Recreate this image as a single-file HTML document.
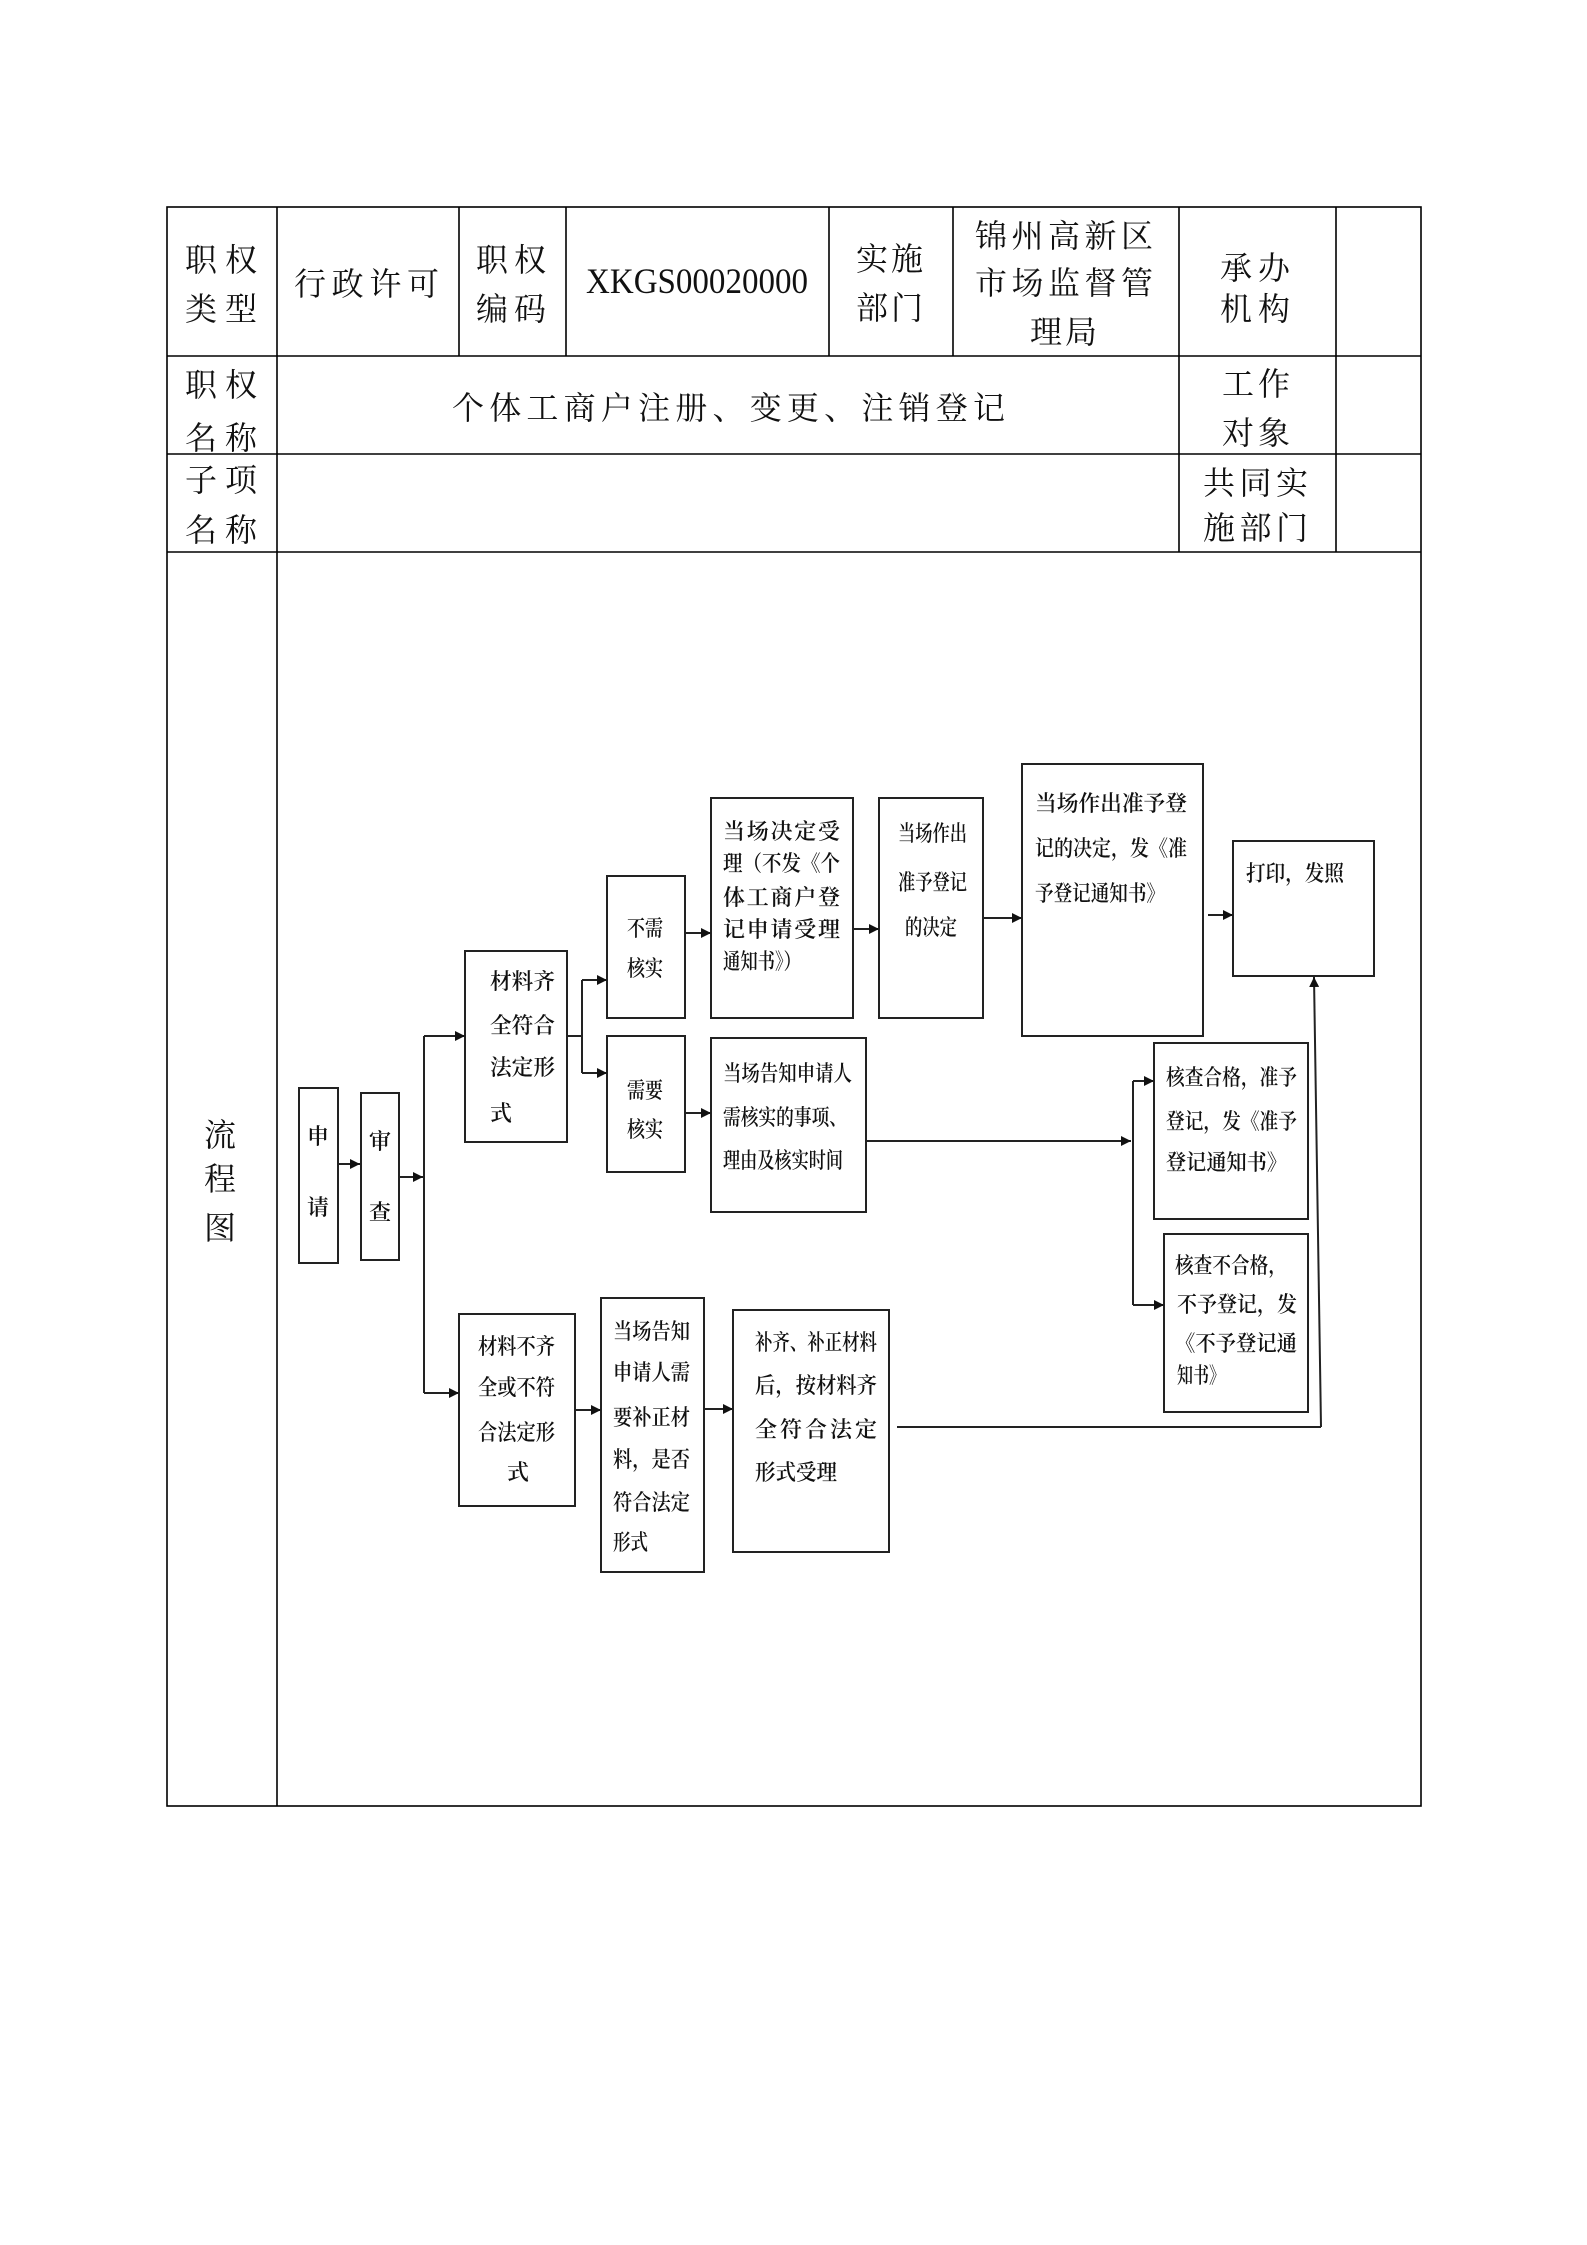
<!DOCTYPE html>
<html>
<head>
<meta charset="utf-8">
<style>
  html, body { margin: 0; padding: 0; background: #fff; }
  body { width: 1587px; height: 2245px; overflow: hidden; }
  svg { display: block; }
  .t { font-family: "Liberation Serif", "Noto Serif CJK SC", serif; font-size: 32px; fill: #111; }
  .f { font-family: "Liberation Serif", "Noto Serif CJK SC", serif; font-size: 22px; fill: #111; font-weight: 600; }
  .m { font-family: "Liberation Serif", serif; font-size: 36px; fill: #111; }
</style>
</head>
<body>
<svg width="1587" height="2245" viewBox="0 0 1587 2245" xmlns="http://www.w3.org/2000/svg">
  <defs>
    <marker id="ah" viewBox="0 0 10 10" refX="10" refY="5" markerWidth="10" markerHeight="10" markerUnits="userSpaceOnUse" orient="auto">
      <path d="M0,0 L10,5 L0,10 z" fill="#111"/>
    </marker>
  </defs>
  <rect x="0" y="0" width="1587" height="2245" fill="#fff"/>

  <!-- TABLE GRID -->
  <g stroke="#000" stroke-width="1.6" fill="none">
    <rect x="167" y="207" width="1254" height="1599"/>
    <line x1="167" y1="356" x2="1421" y2="356"/>
    <line x1="167" y1="454" x2="1421" y2="454"/>
    <line x1="167" y1="552" x2="1421" y2="552"/>
    <line x1="277" y1="207" x2="277" y2="1806"/>
    <line x1="459" y1="207" x2="459" y2="356"/>
    <line x1="566" y1="207" x2="566" y2="356"/>
    <line x1="829" y1="207" x2="829" y2="356"/>
    <line x1="953" y1="207" x2="953" y2="356"/>
    <line x1="1179" y1="207" x2="1179" y2="552"/>
    <line x1="1336" y1="207" x2="1336" y2="552"/>
  </g>

  <!-- TABLE TEXT -->
  <text class="t" x="185" y="271" textLength="72" lengthAdjust="spacing">职权</text>
  <text class="t" x="185" y="320" textLength="72" lengthAdjust="spacing">类型</text>
  <text class="t" x="294" y="295" textLength="145" lengthAdjust="spacing">行政许可</text>
  <text class="t" x="476" y="271" textLength="70" lengthAdjust="spacing">职权</text>
  <text class="t" x="476" y="320" textLength="70" lengthAdjust="spacing">编码</text>
  <text class="m" x="586" y="293" textLength="222" lengthAdjust="spacingAndGlyphs">XKGS00020000</text>
  <text class="t" x="856" y="270" textLength="67" lengthAdjust="spacing">实施</text>
  <text class="t" x="856" y="319" textLength="67" lengthAdjust="spacing">部门</text>
  <text class="t" x="975" y="247" textLength="178" lengthAdjust="spacing">锦州高新区</text>
  <text class="t" x="975" y="294" textLength="178" lengthAdjust="spacing">市场监督管</text>
  <text class="t" x="1030" y="343" textLength="67" lengthAdjust="spacing">理局</text>
  <text class="t" x="1220" y="279" textLength="70" lengthAdjust="spacing">承办</text>
  <text class="t" x="1220" y="320" textLength="70" lengthAdjust="spacing">机构</text>

  <text class="t" x="185" y="396" textLength="72" lengthAdjust="spacing">职权</text>
  <text class="t" x="185" y="449" textLength="72" lengthAdjust="spacing">名称</text>
  <text class="t" x="452" y="419" textLength="553" lengthAdjust="spacing">个体工商户注册、变更、注销登记</text>
  <text class="t" x="1222" y="395" textLength="68" lengthAdjust="spacing">工作</text>
  <text class="t" x="1222" y="444" textLength="68" lengthAdjust="spacing">对象</text>

  <text class="t" x="185" y="491" textLength="72" lengthAdjust="spacing">子项</text>
  <text class="t" x="185" y="541" textLength="72" lengthAdjust="spacing">名称</text>
  <text class="t" x="1203" y="494" textLength="105" lengthAdjust="spacing">共同实</text>
  <text class="t" x="1203" y="539" textLength="105" lengthAdjust="spacing">施部门</text>

  <text class="t" x="220" y="1146" text-anchor="middle">流</text>
  <text class="t" x="220" y="1190" text-anchor="middle">程</text>
  <text class="t" x="220" y="1239" text-anchor="middle">图</text>

  <!-- FLOWCHART BOXES -->
  <g stroke="#222" stroke-width="2" fill="none">
    <rect x="299" y="1088" width="39" height="175"/>
    <rect x="361" y="1093" width="38" height="167"/>
    <rect x="465" y="951" width="102" height="191"/>
    <rect x="607" y="876" width="78" height="142"/>
    <rect x="607" y="1036" width="78" height="136"/>
    <rect x="711" y="798" width="142" height="220"/>
    <rect x="879" y="798" width="104" height="220"/>
    <rect x="1022" y="764" width="181" height="272"/>
    <rect x="1233" y="841" width="141" height="135"/>
    <rect x="711" y="1038" width="155" height="174"/>
    <rect x="1154" y="1043" width="154" height="176"/>
    <rect x="1164" y="1234" width="144" height="178"/>
    <rect x="459" y="1314" width="116" height="192"/>
    <rect x="601" y="1298" width="103" height="274"/>
    <rect x="733" y="1310" width="156" height="242"/>
  </g>

  <!-- CONNECTORS -->
  <g stroke="#222" stroke-width="2" fill="none">
    <line x1="338" y1="1164" x2="360" y2="1164" marker-end="url(#ah)"/>
    <line x1="399" y1="1177" x2="423" y2="1177" marker-end="url(#ah)"/>
    <line x1="424" y1="1036" x2="424" y2="1393"/>
    <line x1="424" y1="1036" x2="465" y2="1036" marker-end="url(#ah)"/>
    <line x1="424" y1="1393" x2="459" y2="1393" marker-end="url(#ah)"/>
    <line x1="567" y1="1036" x2="582" y2="1036"/>
    <line x1="582" y1="980" x2="582" y2="1073"/>
    <line x1="582" y1="980" x2="607" y2="980" marker-end="url(#ah)"/>
    <line x1="582" y1="1073" x2="607" y2="1073" marker-end="url(#ah)"/>
    <line x1="685" y1="933" x2="711" y2="933" marker-end="url(#ah)"/>
    <line x1="685" y1="1113" x2="711" y2="1113" marker-end="url(#ah)"/>
    <line x1="853" y1="929" x2="879" y2="929" marker-end="url(#ah)"/>
    <line x1="983" y1="918" x2="1022" y2="918" marker-end="url(#ah)"/>
    <line x1="1208" y1="915" x2="1233" y2="915" marker-end="url(#ah)"/>
    <line x1="866" y1="1141" x2="1131" y2="1141" marker-end="url(#ah)"/>
    <line x1="1133" y1="1081" x2="1133" y2="1305"/>
    <line x1="1133" y1="1081" x2="1154" y2="1081" marker-end="url(#ah)"/>
    <line x1="1133" y1="1305" x2="1164" y2="1305" marker-end="url(#ah)"/>
    <line x1="575" y1="1410" x2="601" y2="1410" marker-end="url(#ah)"/>
    <line x1="704" y1="1409" x2="733" y2="1409" marker-end="url(#ah)"/>
    <line x1="897" y1="1427" x2="1321" y2="1427"/>
    <line x1="1321" y1="1427" x2="1314" y2="977" marker-end="url(#ah)"/>
  </g>

  <!-- FLOWCHART TEXT -->
  <text class="f" x="318" y="1144" text-anchor="middle">申</text>
  <text class="f" x="318" y="1215" text-anchor="middle">请</text>
  <text class="f" x="380" y="1149" text-anchor="middle">审</text>
  <text class="f" x="380" y="1220" text-anchor="middle">查</text>

  <text class="f" x="490" y="989" textLength="65" lengthAdjust="spacingAndGlyphs">材料齐</text>
  <text class="f" x="490" y="1033" textLength="65" lengthAdjust="spacingAndGlyphs">全符合</text>
  <text class="f" x="490" y="1075" textLength="65" lengthAdjust="spacingAndGlyphs">法定形</text>
  <text class="f" x="490" y="1121">式</text>

  <text class="f" x="627" y="936" textLength="36" lengthAdjust="spacingAndGlyphs">不需</text>
  <text class="f" x="627" y="976" textLength="36" lengthAdjust="spacingAndGlyphs">核实</text>
  <text class="f" x="627" y="1098" textLength="36" lengthAdjust="spacingAndGlyphs">需要</text>
  <text class="f" x="627" y="1137" textLength="36" lengthAdjust="spacingAndGlyphs">核实</text>

  <text class="f" x="723" y="839" textLength="117" lengthAdjust="spacing">当场决定受</text>
  <text class="f" x="723" y="871" textLength="117" lengthAdjust="spacingAndGlyphs">理（不发《个</text>
  <text class="f" x="723" y="905" textLength="117" lengthAdjust="spacing">体工商户登</text>
  <text class="f" x="723" y="937" textLength="117" lengthAdjust="spacing">记申请受理</text>
  <text class="f" x="723" y="969" textLength="78" lengthAdjust="spacingAndGlyphs">通知书》）</text>

  <text class="f" x="898" y="841" textLength="69" lengthAdjust="spacingAndGlyphs">当场作出</text>
  <text class="f" x="898" y="890" textLength="69" lengthAdjust="spacingAndGlyphs">准予登记</text>
  <text class="f" x="905" y="935" textLength="52" lengthAdjust="spacingAndGlyphs">的决定</text>

  <text class="f" x="1035" y="811" textLength="152" lengthAdjust="spacingAndGlyphs">当场作出准予登</text>
  <text class="f" x="1035" y="856" textLength="152" lengthAdjust="spacingAndGlyphs">记的决定，发《准</text>
  <text class="f" x="1035" y="901" textLength="130" lengthAdjust="spacingAndGlyphs">予登记通知书》</text>

  <text class="f" x="1246" y="881" textLength="98" lengthAdjust="spacingAndGlyphs">打印，发照</text>

  <text class="f" x="723" y="1081" textLength="129" lengthAdjust="spacingAndGlyphs">当场告知申请人</text>
  <text class="f" x="723" y="1125" textLength="124" lengthAdjust="spacingAndGlyphs">需核实的事项、</text>
  <text class="f" x="723" y="1168" textLength="120" lengthAdjust="spacingAndGlyphs">理由及核实时间</text>

  <text class="f" x="1166" y="1085" textLength="131" lengthAdjust="spacingAndGlyphs">核查合格，准予</text>
  <text class="f" x="1166" y="1129" textLength="131" lengthAdjust="spacingAndGlyphs">登记，发《准予</text>
  <text class="f" x="1166" y="1170" textLength="121" lengthAdjust="spacingAndGlyphs">登记通知书》</text>

  <text class="f" x="1175" y="1273" textLength="112" lengthAdjust="spacingAndGlyphs">核查不合格，</text>
  <text class="f" x="1177" y="1312" textLength="120" lengthAdjust="spacingAndGlyphs">不予登记，发</text>
  <text class="f" x="1175" y="1351" textLength="122" lengthAdjust="spacingAndGlyphs">《不予登记通</text>
  <text class="f" x="1177" y="1383" textLength="48" lengthAdjust="spacingAndGlyphs">知书》</text>

  <text class="f" x="478" y="1354" textLength="77" lengthAdjust="spacingAndGlyphs">材料不齐</text>
  <text class="f" x="478" y="1395" textLength="77" lengthAdjust="spacingAndGlyphs">全或不符</text>
  <text class="f" x="478" y="1440" textLength="77" lengthAdjust="spacingAndGlyphs">合法定形</text>
  <text class="f" x="518" y="1480" text-anchor="middle">式</text>

  <text class="f" x="613" y="1339" textLength="77" lengthAdjust="spacingAndGlyphs">当场告知</text>
  <text class="f" x="613" y="1380" textLength="77" lengthAdjust="spacingAndGlyphs">申请人需</text>
  <text class="f" x="613" y="1425" textLength="77" lengthAdjust="spacingAndGlyphs">要补正材</text>
  <text class="f" x="613" y="1467" textLength="77" lengthAdjust="spacingAndGlyphs">料，是否</text>
  <text class="f" x="613" y="1510" textLength="77" lengthAdjust="spacingAndGlyphs">符合法定</text>
  <text class="f" x="613" y="1550" textLength="35" lengthAdjust="spacingAndGlyphs">形式</text>

  <text class="f" x="755" y="1350" textLength="122" lengthAdjust="spacingAndGlyphs">补齐、补正材料</text>
  <text class="f" x="755" y="1393" textLength="122" lengthAdjust="spacingAndGlyphs">后，按材料齐</text>
  <text class="f" x="755" y="1437" textLength="122" lengthAdjust="spacing">全符合法定</text>
  <text class="f" x="755" y="1480" textLength="82" lengthAdjust="spacingAndGlyphs">形式受理</text>
</svg>
</body>
</html>
